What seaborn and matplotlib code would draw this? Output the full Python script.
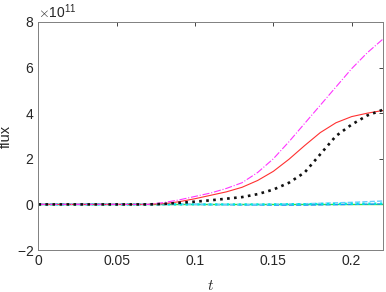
import numpy as np
import pandas as pd
import matplotlib
matplotlib.use("Agg")
import matplotlib.pyplot as plt
import seaborn as sns
from matplotlib.ticker import ScalarFormatter

# time samples
t = [0.00, 0.01, 0.02, 0.03, 0.04, 0.05, 0.06, 0.07, 0.08, 0.09, 0.10, 0.11,
     0.12, 0.13, 0.14, 0.15, 0.16, 0.17, 0.18, 0.19, 0.20, 0.21, 0.22]

# flux values, in units of 1e11
flux_red = [0, 0, 0, 0, 0, 0, 0, 0, 0.03, 0.12, 0.25, 0.40, 0.55, 0.75, 1.05,
            1.45, 1.98, 2.58, 3.15, 3.58, 3.85, 4.00, 4.12]
flux_magenta = [0, 0, 0, 0, 0, 0, 0, 0, 0.08, 0.20, 0.35, 0.50, 0.70, 0.95, 1.40,
                2.00, 2.75, 3.55, 4.35, 5.15, 5.95, 6.65, 7.25]
flux_black = [0, 0, 0, 0, 0, 0, 0, 0, 0.02, 0.07, 0.12, 0.18, 0.25, 0.32, 0.45,
              0.65, 0.95, 1.40, 2.20, 3.00, 3.50, 3.90, 4.15]
flux_green = [0] * 23
flux_cyan = [0, 0, 0, 0, 0, 0, 0, 0, 0, 0, 0, 0, 0, 0, 0, 0, 0.01, 0.01, 0.02,
             0.02, 0.03, 0.03, 0.04]
flux_blue = [0, 0, 0, 0, 0, 0, 0, 0, 0, 0, 0, -0.01, -0.01, -0.02, -0.02, -0.03,
             -0.03, -0.03, -0.02, -0.01, 0.0, 0.01, 0.02]
flux_lightblue = [0, 0, 0, 0, 0, 0, 0, 0, 0, 0, 0, 0, 0, 0, 0, 0.01, 0.02, 0.03,
                  0.05, 0.07, 0.09, 0.12, 0.15]

series = [
    (flux_green, "#33e633", "-", 1.0),
    (flux_blue, "#1f8fff", "--", 1.0),
    (flux_lightblue, "#66ccff", "--", 1.0),
    (flux_cyan, "#00e5e5", ":", 1.6),
    (flux_red, "#ff3030", "-", 0.8),
    (flux_magenta, "#ff33ff", "-.", 0.8),
    (flux_black, "#111111", ":", 1.9),
]

sns.set_theme(style="white")
plt.rcParams["font.family"] = ["Liberation Sans", "DejaVu Sans"]
plt.rcParams["mathtext.fontset"] = "cm"

fig = plt.figure(figsize=(3.86, 2.92), dpi=100)
ax = fig.add_axes([0.0997, 0.1438, 0.8923, 0.7809])

for vals, col, ls, lw in series:
    df = pd.DataFrame({"t": t, "flux": np.array(vals) * 1e11})
    sns.lineplot(data=df, x="t", y="flux", ax=ax, color=col, linestyle=ls,
                 linewidth=lw)

ax.set_xlim(0, 0.22)
ax.set_ylim(-2e11, 8e11)
ax.set_xticks([0, 0.05, 0.1, 0.15, 0.2])
ax.set_xticklabels(["0", "0.05", "0.1", "0.15", "0.2"])
ax.set_yticks([-2e11, 0, 2e11, 4e11, 6e11, 8e11])

fmt = ScalarFormatter(useMathText=True)
fmt.set_powerlimits((0, 0))
ax.yaxis.set_major_formatter(fmt)
ax.yaxis.get_offset_text().set_fontsize(10)
ax.yaxis.get_offset_text().set_color("#262626")

ax.set_xlabel("$t$", fontsize=11, color="#262626")
ax.xaxis.set_label_coords(0.5, -0.125, transform=ax.transAxes)
ax.set_ylabel("flux", fontsize=10.5, color="#262626")
ax.yaxis.set_label_coords(-0.075, 0.5, transform=ax.transAxes)

ax.tick_params(axis="both", which="both", direction="in", length=3, width=0.6,
               labelsize=10, colors="#262626", top=True, right=True, pad=3)
for s in ax.spines.values():
    s.set_visible(True)
    s.set_color("#808080")
    s.set_linewidth(0.7)

fig.savefig("out.png", dpi=100)
